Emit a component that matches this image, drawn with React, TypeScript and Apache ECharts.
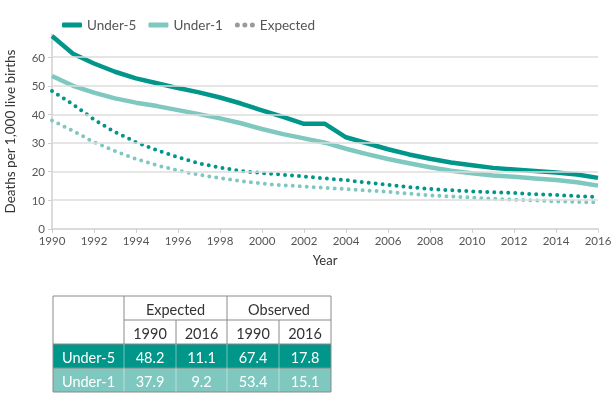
import React, { useEffect, useRef } from "react";
import * as echarts from "echarts";

const years = [1990, 1991, 1992, 1993, 1994, 1995, 1996, 1997, 1998, 1999, 2000, 2001, 2002, 2003, 2004, 2005, 2006, 2007, 2008, 2009, 2010, 2011, 2012, 2013, 2014, 2015, 2016];
const under5 = [67.4, 61.2, 57.8, 54.9, 52.6, 50.9, 49.2, 47.7, 45.9, 43.8, 41.4, 39.1, 36.7, 36.7, 32.0, 29.9, 27.8, 26.0, 24.5, 23.2, 22.2, 21.3, 20.7, 20.2, 19.7, 19.0, 17.8];
const under1 = [53.4, 50.0, 47.6, 45.6, 44.1, 42.9, 41.5, 40.1, 38.6, 36.9, 34.9, 33.1, 31.6, 30.1, 28.0, 26.1, 24.4, 22.9, 21.5, 20.3, 19.4, 18.6, 18.2, 17.6, 17.1, 16.3, 15.1];
const expected5 = [48.2, 43.5, 38.2, 33.8, 30.3, 27.5, 25.0, 22.9, 21.4, 20.2, 19.5, 18.9, 18.3, 17.6, 17.0, 16.2, 15.4, 14.6, 13.9, 13.5, 13.1, 12.8, 12.5, 12.1, 11.8, 11.4, 11.1];
const expected1 = [37.9, 34.2, 30.3, 27.2, 24.4, 22.2, 20.4, 18.9, 17.7, 16.7, 15.8, 15.2, 14.8, 14.3, 13.9, 13.4, 12.9, 12.3, 11.7, 11.3, 10.9, 10.5, 10.2, 9.9, 9.6, 9.4, 9.2];
const yTicks = [0, 10, 20, 30, 40, 50, 60];
const tableGroups = ["Expected", "Observed"];
const rowLabels = ["Under-5", "Under-1"];

const DARK = "#00968a";
const LIGHT = "#7fc8bf";
const FONT = "Lato, 'Open Sans', sans-serif";

const pairs = (vals: number[]) => years.map((y, i) => [y, vals[i]]);

export default function App() {
  const ref = useRef<HTMLDivElement>(null);
  useEffect(() => {
    if (!ref.current) return;
    const chart = echarts.init(ref.current, null, { renderer: "svg" });

    const colX = [53, 124, 176, 227, 279, 331];
    const rowY = [296, 320, 344, 368, 392];
    const firstYear = years[0];
    const lastYear = years[years.length - 1];
    const rowsData = [
      [expected5[0], expected5[expected5.length - 1], under5[0], under5[under5.length - 1]],
      [expected1[0], expected1[expected1.length - 1], under1[0], under1[under1.length - 1]],
    ];
    const g: any[] = [];
    const rowColors = [DARK, LIGHT];
    rowColors.forEach((c, r) => {
      g.push({ type: "rect", shape: { x: colX[0], y: rowY[2 + r], width: colX[5] - colX[0], height: rowY[3 + r] - rowY[2 + r] }, style: { fill: c } });
    });
    const gray = "#8a8a8a";
    const ln = (x1: number, y1: number, x2: number, y2: number, stroke: string) =>
      g.push({ type: "line", shape: { x1, y1, x2, y2 }, style: { stroke, lineWidth: 1 } });
    ln(colX[1], rowY[1], colX[5], rowY[1], gray);
    ln(colX[0], rowY[2], colX[5], rowY[2], gray);
    ln(colX[1], rowY[0], colX[1], rowY[2], gray);
    ln(colX[3], rowY[0], colX[3], rowY[2], gray);
    ln(colX[2], rowY[1], colX[2], rowY[2], gray);
    ln(colX[4], rowY[1], colX[4], rowY[2], gray);
    ln(colX[0], rowY[3], colX[5], rowY[3], gray);
    [1, 2, 3, 4].forEach((i) => {
      ln(colX[i], rowY[2], colX[i], rowY[3], "rgba(255,255,255,0.45)");
      ln(colX[i], rowY[3], colX[i], rowY[4], "rgba(255,255,255,0.45)");
    });
    g.push({ type: "rect", shape: { x: colX[0], y: rowY[0], width: colX[5] - colX[0], height: rowY[4] - rowY[0] }, style: { fill: "none", stroke: gray, lineWidth: 1 } });
    const txt = (text: string, x: number, y: number, fill: string) =>
      g.push({ type: "text", x, y, style: { text, fill, font: `14.5px ${FONT}`, align: "center", verticalAlign: "middle" } });
    tableGroups.forEach((t, i) => txt(t, (colX[1 + 2 * i] + colX[3 + 2 * i]) / 2, (rowY[0] + rowY[1]) / 2 + 1, "#333"));
    [firstYear, lastYear, firstYear, lastYear].forEach((yr, i) => txt(String(yr), (colX[1 + i] + colX[2 + i]) / 2, (rowY[1] + rowY[2]) / 2 + 1, "#333"));
    rowLabels.forEach((lab, r) => {
      const cy = (rowY[2 + r] + rowY[3 + r]) / 2 + 1;
      txt(lab, (colX[0] + colX[1]) / 2, cy, "#fff");
      rowsData[r].forEach((v, i) => txt(v.toFixed(1), (colX[1 + i] + colX[2 + i]) / 2, cy, "#fff"));
    });

    const dotStyle = (color: string) => ({ color, width: 4, type: [0, 7] as any, cap: "round" as any });

    chart.setOption({
      animation: false,
      textStyle: { fontFamily: FONT },
      grid: { left: 52, right: 13, top: 34.3, bottom: 166.2, containLabel: false, outerBoundsMode: "none" },
      legend: {
        left: 57,
        top: 13,
        itemWidth: 20,
        itemHeight: 5,
        itemGap: 12,
        textStyle: { fontSize: 13.5, color: "#555", fontFamily: FONT },
        data: [
          { name: "Under-5", icon: "roundRect" },
          { name: "Under-1", icon: "roundRect" },
          {
            name: "Expected",
            icon: "path://M0,2a2,2 0 1,0 4,0a2,2 0 1,0 -4,0M6,2a2,2 0 1,0 4,0a2,2 0 1,0 -4,0M12,2a2,2 0 1,0 4,0a2,2 0 1,0 -4,0",
            itemStyle: { color: "#9a9a9a" },
          },
        ],
      },
      xAxis: {
        type: "value",
        min: 1990,
        max: 2016,
        interval: 2,
        name: "Year",
        nameLocation: "middle",
        nameGap: 25,
        nameTextStyle: { fontSize: 13, color: "#333", fontFamily: FONT },
        axisLine: { lineStyle: { color: "#cfcfcf", width: 1.5 } },
        axisTick: { show: true, length: 4, lineStyle: { color: "#cfcfcf" } },
        axisLabel: { fontSize: 11.5, color: "#555", margin: 6, formatter: (v: number) => String(v) },
        splitLine: { show: false },
      },
      yAxis: {
        type: "value",
        min: 0,
        max: 68,
        interval: 10,
        name: "Deaths per 1,000 live births",
        nameLocation: "middle",
        nameRotate: 90,
        nameGap: 35,
        nameTextStyle: { fontSize: 13.5, color: "#333", fontFamily: FONT },
        axisLine: { show: true, lineStyle: { color: "#cfcfcf", width: 1.5 } },
        axisTick: { show: true, length: 4, lineStyle: { color: "#cfcfcf" }, customValues: yTicks },
        axisLabel: { fontSize: 11.5, color: "#555", margin: 7, customValues: yTicks },
        splitLine: { show: false },
      },
      graphic: g,
      series: [
        {
          name: "Expected",
          type: "line",
          data: pairs(expected1),
          showSymbol: false,
          lineStyle: dotStyle(LIGHT),
          itemStyle: { color: LIGHT },
          markLine: {
            silent: true,
            symbol: "none",
            label: { show: false },
            lineStyle: { color: "#dcdcdc", type: "solid", width: 1.5 },
            data: yTicks.filter((t) => t > 0).map((t) => ({ yAxis: t })),
          },
        },
        {
          name: "Expected",
          type: "line",
          data: pairs(expected5),
          showSymbol: false,
          lineStyle: dotStyle(DARK),
          itemStyle: { color: DARK },
        },
        {
          name: "Under-1",
          type: "line",
          data: pairs(under1),
          showSymbol: false,
          lineStyle: { color: LIGHT, width: 4.5, join: "round" },
          itemStyle: { color: LIGHT },
        },
        {
          name: "Under-5",
          type: "line",
          data: pairs(under5),
          showSymbol: false,
          lineStyle: { color: DARK, width: 4.5, join: "round" },
          itemStyle: { color: DARK },
        },
      ],
    });
    return () => chart.dispose();
  }, []);
  return <div ref={ref} style={{ position: "fixed", left: 0, top: 0, width: 611, height: 395 }} />;
}
